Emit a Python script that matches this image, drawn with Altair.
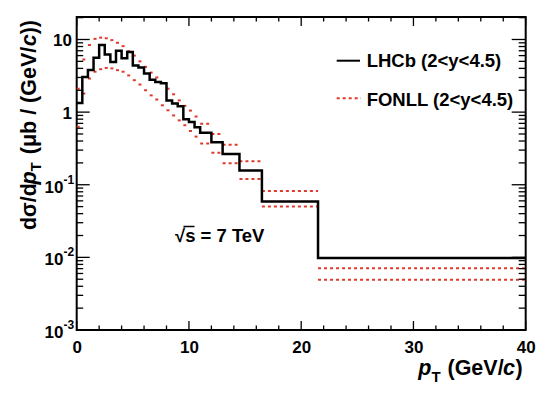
import altair as alt
import pandas as pd

# ---------------- data ----------------
edges = [0.0, 0.5, 1.0, 1.5, 2.0, 2.5, 3.0, 3.5, 4.0, 4.5, 5.0, 5.5, 6.0, 6.5, 7.0,
         7.5, 8.0, 8.5, 9.0, 9.5, 10.0, 10.5, 11.0, 12.0, 13.0, 14.5, 16.5, 21.5, 40.0]
lhcb = [1.33, 3.05, 3.8, 5.6, 8.4, 6.2, 4.9, 7.0, 5.5, 6.7, 4.4, 4.1, 3.4, 2.8, 2.6,
        2.5, 1.45, 1.31, 1.2, 0.80, 0.73, 0.62, 0.52, 0.385, 0.265, 0.157, 0.059, 0.0098]
fonll_hi = [2.1, 5.3, 8.4, 10.2, 10.6, 10.4, 9.8, 9.0, 8.1, 6.9, 6.0, 5.0, 4.2, 3.5, 3.0,
            2.52, 2.1, 1.76, 1.45, 1.22, 1.05, 0.87, 0.69, 0.50, 0.354, 0.21, 0.082, 0.0071]
fonll_lo = [0.63, 1.8, 2.9, 3.6, 3.9, 4.06, 4.0, 3.78, 3.6, 3.2, 2.75, 2.4, 2.0, 1.7, 1.49,
            1.24, 1.06, 0.9, 0.77, 0.66, 0.55, 0.46, 0.37, 0.275, 0.197, 0.12, 0.050, 0.0049]

x_major = [0, 10, 20, 30, 40]
x_minor = [v for v in range(0, 41, 2) if v % 10 != 0]
y_major = [1e-3, 1e-2, 1e-1, 1.0, 10.0]
y_minor = [k * 10.0 ** n for n in range(-3, 2) for k in range(2, 10) if k * 10.0 ** n <= 20.4]
y_labels = ["10", "10", "10", "1", "10"]
y_label_vals = [1e-3, 1e-2, 1e-1, 1.0, 10.0]
y_sups = ["-3", "-2", "-1", "", ""]

# ---------------- layout / style ----------------
W, H = 449, 313
OX, OY = 76.7, 17.0          # page position of plot origin
FONT = "Liberation Sans"
RED = "#e03a2e"

def px(x):
    return x - OX

def py(y):
    return y - OY

xs = alt.Scale(domain=[0, 40], nice=False, zero=False)
ys = alt.Scale(type="log", domain=[0.001, 20.4], nice=False)
xaxis = alt.Axis(values=x_major, labelFont=FONT, labelFontSize=17, labelFontWeight="bold",
                 labelColor="black", ticks=False, tickSize=0, domain=False, grid=False,
                 labelPadding=10, labelFlush=False, title=None, format="d")

one = pd.DataFrame({"a": [0]})

hist_df = pd.DataFrame({"pt": edges, "xs": lhcb + [lhcb[-1]]})
band_df = pd.DataFrame({"lo": edges[:-1], "hi": edges[1:], "up": fonll_hi, "dn": fonll_lo})

hist = alt.Chart(hist_df).mark_line(interpolate="step-after", color="black", strokeWidth=2.5).encode(
    x=alt.X("pt:Q", scale=xs, axis=xaxis),
    y=alt.Y("xs:Q", scale=ys, axis=None),
)

band_up = alt.Chart(band_df).mark_rule(color=RED, strokeDash=[3, 3], strokeWidth=2).encode(
    x=alt.X("lo:Q", scale=xs, axis=xaxis), x2="hi:Q",
    y=alt.Y("up:Q", scale=ys, axis=None),
)
band_dn = alt.Chart(band_df).mark_rule(color=RED, strokeDash=[3, 3], strokeWidth=2).encode(
    x=alt.X("lo:Q", scale=xs, axis=xaxis), x2="hi:Q",
    y=alt.Y("dn:Q", scale=ys, axis=None),
)

# ---- inward ticks on all four sides ----
def yticks(vals, length, right=False):
    df = pd.DataFrame({"v": vals})
    if right:
        xa, xb = W - length, W
    else:
        xa, xb = 0, length
    return alt.Chart(df).mark_rule(color="black", strokeWidth=1.3).encode(
        y=alt.Y("v:Q", scale=ys, axis=None), x=alt.value(xa), x2=alt.value(xb))

def xticks(vals, length, top=False):
    df = pd.DataFrame({"t": vals})
    if top:
        ya, yb = 0, length
    else:
        ya, yb = H, H - length
    return alt.Chart(df).mark_rule(color="black", strokeWidth=1.3).encode(
        x=alt.X("t:Q", scale=xs, axis=xaxis), y=alt.value(ya), y2=alt.value(yb))

ticks = [yticks(y_major, 13), yticks(y_minor, 6.5), yticks(y_major, 14, True), yticks(y_minor, 7, True),
         xticks(x_major, 9), xticks(x_minor, 4.5), xticks(x_major, 9, True), xticks(x_minor, 4.5, True)]

# ---- y tick labels with superscripts ----
ylab_df = pd.DataFrame({"v": y_label_vals, "base": y_labels, "sup": y_sups})
ylab_plain = alt.Chart(ylab_df[ylab_df["sup"] == ""]).mark_text(
    font=FONT, fontSize=17, fontWeight="bold", align="right", baseline="middle", dy=2, color="black"
).encode(y=alt.Y("v:Q", scale=ys, axis=None), x=alt.value(px(72.0)), text="base:N")
ylab_base = alt.Chart(ylab_df[ylab_df["sup"] != ""]).mark_text(
    font=FONT, fontSize=17, fontWeight="bold", align="right", baseline="middle", dy=3, color="black"
).encode(y=alt.Y("v:Q", scale=ys, axis=None), x=alt.value(px(63.5)), text="base:N")
ylab_sup = alt.Chart(ylab_df[ylab_df["sup"] != ""]).mark_text(
    font=FONT, fontSize=12, fontWeight="bold", align="left", baseline="middle", dy=-5, color="black"
).encode(y=alt.Y("v:Q", scale=ys, axis=None), x=alt.value(px(63.5)), text="sup:N")

# ---- free text helper ----
def txt(s, x, y, size, style="normal", angle=0, align="left", color="black", baseline="alphabetic"):
    return alt.Chart(one).mark_text(
        font=FONT, fontSize=size, fontWeight="bold", fontStyle=style, align=align,
        baseline=baseline, angle=angle, color=color
    ).encode(x=alt.value(px(x)), y=alt.value(py(y)), text=alt.value(s))

# x-axis title  p_T (GeV/c)
xtitle = [
    txt("p", 418.3, 375, 21.5, "italic"),
    txt("T", 431.5, 382, 15),
    txt("(GeV/", 447.5, 375, 21.5),
    txt("c", 503.0, 375, 21.5, "italic"),
    txt(")", 515.5, 375, 21.5),
]

# y-axis title  dσ/dp_T (μb / (GeV/c)), rotated; start pieces anchored at the bottom,
# end pieces anchored at the top (align right = text ends at the anchor)
FS = 21.5
BX = 36.0
ytitle = [
    txt("dσ/d", BX, 230.0, FS, angle=270),
    txt("p", BX, 184.5, FS, "italic", angle=270),
    txt("T", BX + 5, 171.4, 15, angle=270),
    txt("))", BX, 20.0, FS, angle=270, align="right"),
    txt("c", BX, 20.0 + 0.666 * FS, FS, "italic", angle=270, align="right"),
    txt("(μb / (GeV/", BX, 20.0 + 0.666 * FS + 0.556 * FS + 0.5, FS, angle=270, align="right"),
]

# legend
leg_line = alt.Chart(one).mark_rule(color="black", strokeWidth=2).encode(
    x=alt.value(px(336.7)), x2=alt.value(px(360.0)), y=alt.value(py(60.7)))
leg_dash = alt.Chart(one).mark_rule(color=RED, strokeWidth=2, strokeDash=[3, 3]).encode(
    x=alt.value(px(336.7)), x2=alt.value(px(361.0)), y=alt.value(py(98.3)))
legend = [leg_line, leg_dash,
          txt("LHCb (2<y<4.5)", 366.7, 67, 18.5),
          txt("FONLL (2<y<4.5)", 366.7, 105.5, 18.5)]

# sqrt(s) = 7 TeV
energy = [txt("√s = 7 TeV", 175.0, 242, 18.5)]
overline = alt.Chart(one).mark_rule(color="black", strokeWidth=1.5).encode(
    x=alt.value(px(183.5)), x2=alt.value(px(194.5)), y=alt.value(py(226.5)))

chart = alt.layer(
    band_up, band_dn, hist, *ticks, ylab_plain, ylab_base, ylab_sup,
    *xtitle, *ytitle, *legend, *energy, overline
).properties(
    width=W, height=H,
    autosize=alt.AutoSizeParams(type="none"),
    padding={"left": OX - 8, "top": OY - 8, "right": 12, "bottom": 60},
).configure_view(stroke="black", strokeWidth=2)

chart.save("out.html", embed_options={"renderer": "svg", "actions": False})
